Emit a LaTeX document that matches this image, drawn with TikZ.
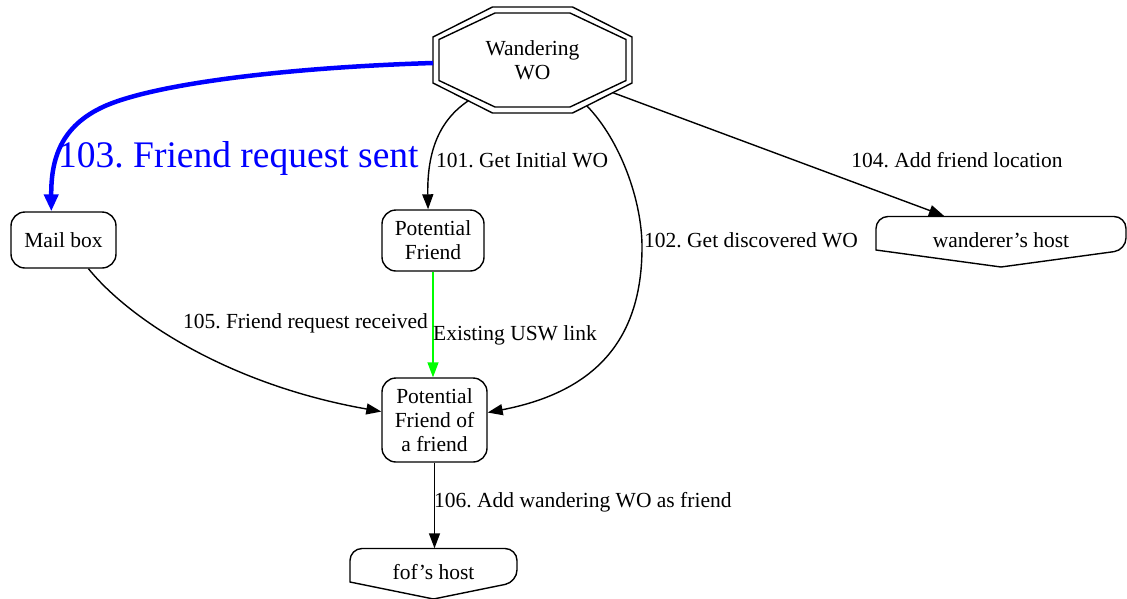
\documentclass[tikz,border=0pt]{standalone}
\usepackage{fontspec}
\setmainfont{Liberation Serif}
\usetikzlibrary{arrows.meta,calc}
\frenchspacing

\begin{document}
\begin{tikzpicture}[x=1pt,y=-1pt,
		font=\fontsize{21.5}{24}\selectfont,
		box/.style={draw,line width=1.4pt,rounded corners=14pt,align=center,
			minimum width=102pt,minimum height=56pt,inner sep=0pt},
		link/.style={line width=1.4pt,-{Triangle[length=15pt,width=11pt]}},
		lbl/.style={inner sep=0pt}]
		\useasboundingbox (0,0) rectangle (1127,598);
		
		% the nodes
		\node[align=center] (wo) at (532.5,60) {Wandering\\WO};
		\node[box,minimum width=105pt] (mail) at (63.5,240) {Mail box};
		\node[box,minimum height=61pt] (pf) at (433,240.5) {Potential\\Friend};
		\node[box,minimum width=105pt,minimum height=84pt] (fof) at (434.5,420) {Potential\\Friend of\\a friend};
		\node[minimum width=250pt,minimum height=48pt] (whost) at (1001,240) {wanderer's host};
		\node[minimum width=167pt,minimum height=47pt] (fhost) at (433.5,572) {fof's host};
		
		% double octagon round the wandering WO
		\draw[line width=1.4pt,shift={(wo)}] (-40,-53) -- (40,-53) -- (99.5,-23) -- (99.5,23)
		-- (40,53) -- (-40,53) -- (-99.5,23) -- (-99.5,-23) -- cycle;
		\draw[line width=1.4pt,shift={(wo)}] (-37.5,-47) -- (37.5,-47) -- (93.5,-20.5) -- (93.5,20.5)
		-- (37.5,47) -- (-37.5,47) -- (-93.5,20.5) -- (-93.5,-20.5) -- cycle;
		
		% host shapes, pointed at the bottom
		\foreach \n/\w in {whost/125,fhost/83.5}
		\draw[line width=1.4pt] ($(\n)+(0,27)$) -- ($(\n)+(-\w,10)$)
		[rounded corners=12pt] -- ($(\n)+(-\w,-23.5)$) -- ($(\n)+(\w,-23.5)$) -- ($(\n)+(\w,10)$)
		[sharp corners] -- cycle;
		
		% where the edges leave the octagon
		\coordinate (wo-w) at ($(wo)+(-99.5,3)$);
		\coordinate (wo-sw) at ($(wo)+(-64.5,41)$);
		\coordinate (wo-s) at ($(wo)+(54.5,46)$);
		\coordinate (wo-se) at ($(wo)+(80.5,32.7)$);
		
		% edges
		\draw[blue,line width=4.5pt,-{Triangle[length=17pt,width=14pt]}] (wo-w)
		.. controls (300,67) and (160,82) .. (105,106)
		.. controls (60,126) and (51,160) .. (mail.113);
		\draw[link] (wo-sw) .. controls (440,120) and (427,150) .. (pf.99);
		\draw[link] (wo-s) .. controls (620,140) and (642,200) .. (642,247)
		.. controls (642,330) and (605,390) .. (fof.8);
		\draw[link] (wo-se) -- (whost.157);
		\draw[link] (mail.-49) .. controls (130,320) and (230,385) .. (fof.171);
		\draw[link,green] (pf.south) -- (pf.south |- fof.north);
		\draw[link] (fof.south) -- (fof.south |- fhost.north);
		
		% edge labels
		\node[lbl,anchor=west,blue,font=\fontsize{37.5}{40}\selectfont] (sent) at (58,158) {103. Friend request sent};
		\node[lbl,anchor=west] (initial) at (436,160) {101. Get Initial WO};
		\node[lbl,anchor=west] (discovered) at (644,240) {102. Get discovered WO};
		\node[lbl] (location) at (957,160) {104. Add friend location};
		\node[lbl,anchor=east] (received) at (428,323) {105. Friend request received};
		\node[lbl,anchor=west] (usw) at (433,335) {Existing USW link};
		\node[lbl,anchor=west] (addfriend) at (434,502) {106. Add wandering WO as friend};
	\end{tikzpicture}
\end{document}
